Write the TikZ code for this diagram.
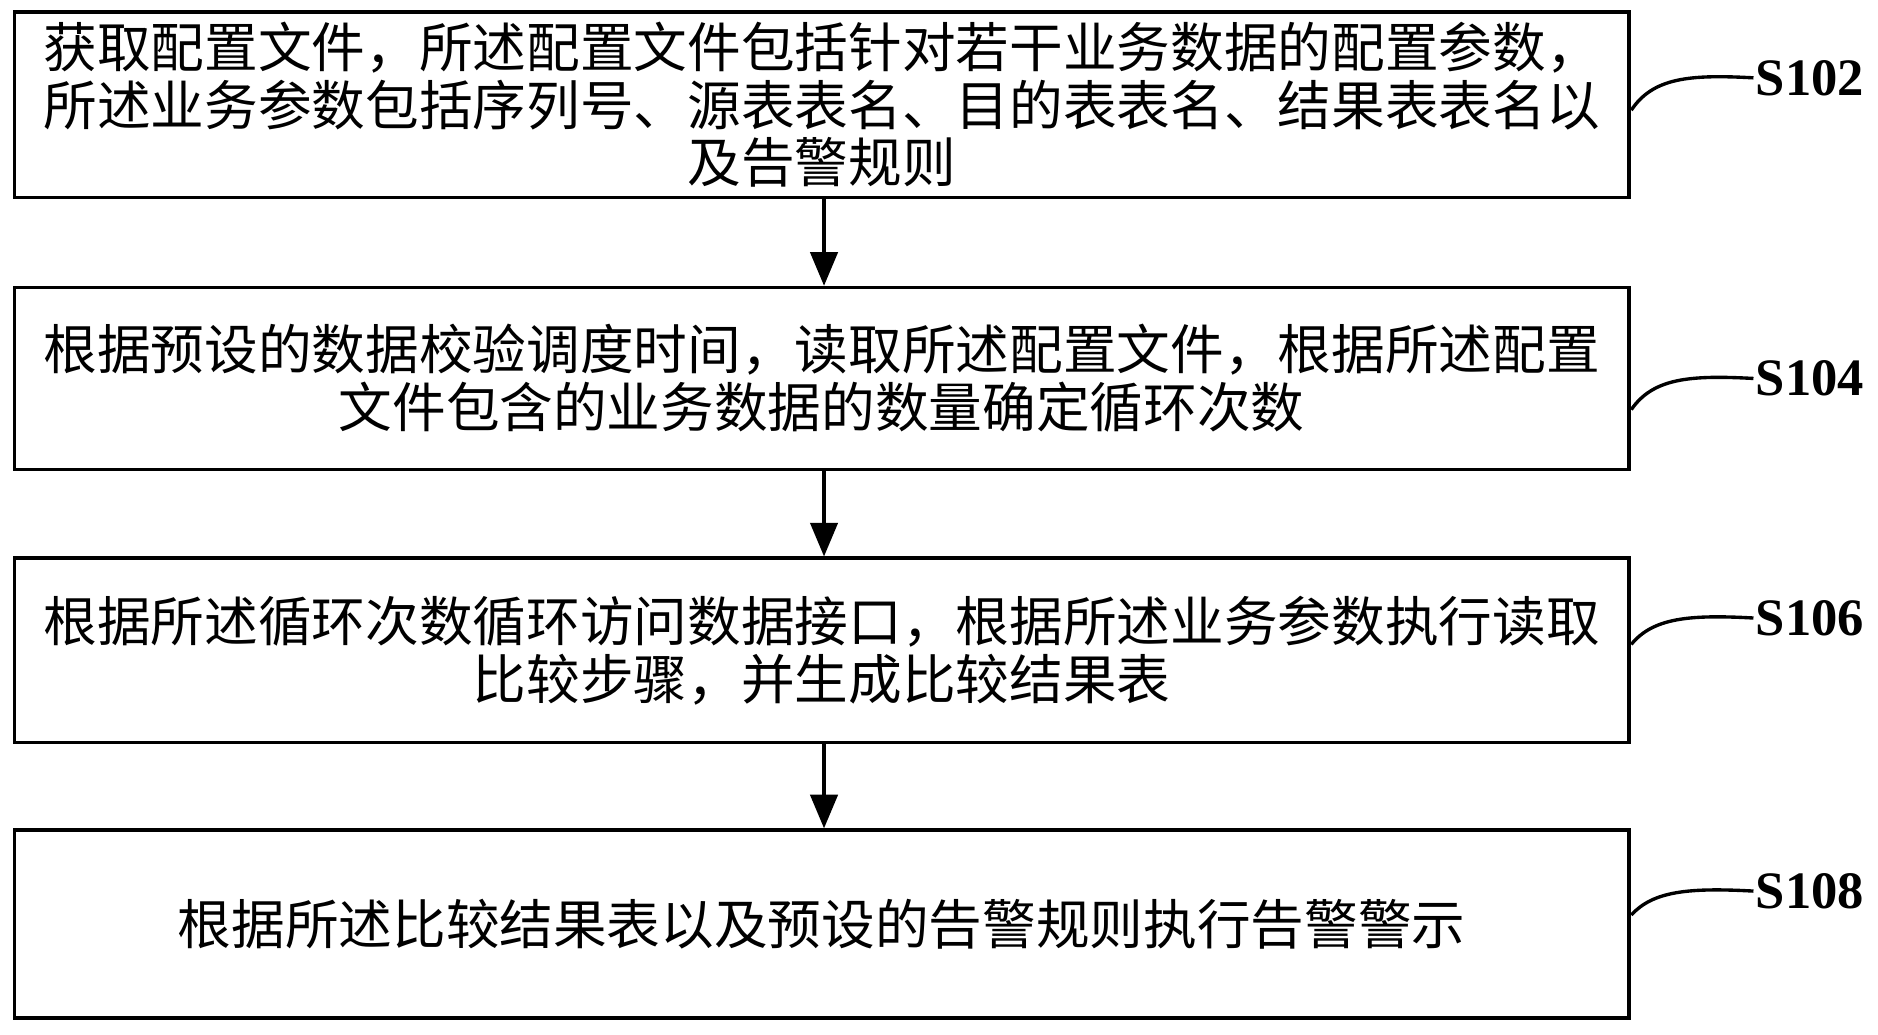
\documentclass[tikz,border=0pt]{standalone}
\usepackage{fontspec}
\setmainfont{Liberation Serif}
\newfontfamily\cjk{Noto Sans CJK SC}
\usetikzlibrary{arrows.meta}
\begin{document}
\begin{tikzpicture}[x=0.02cm,y=-0.02cm,
  box/.style={draw,line width=1.6pt,minimum width=1348*0.02cm,inner sep=0pt,align=center,font=\cjk\fontsize{25.5}{27.5}\selectfont},
  arr/.style={line width=1.6pt,-{Triangle[length=16pt,width=13pt]}},
  lead/.style={line width=1.6pt},
  lab/.style={anchor=west,font=\fontsize{25}{27}\selectfont\bfseries,inner sep=1pt}]
\useasboundingbox (0,0) rectangle (1568,864);
\node[box,minimum height=155*0.02cm] (b1) at (686,87.5) {获取配置文件，所述配置文件包括针对若干业务数据的配置参数，\\所述业务参数包括序列号、源表表名、目的表表名、结果表表名以\\及告警规则};
\node[box,minimum height=152*0.02cm] (b2) at (686,316) {根据预设的数据校验调度时间，读取所述配置文件，根据所述配置\\文件包含的业务数据的数量确定循环次数};
\node[box,minimum height=154*0.02cm] (b3) at (686,543) {根据所述循环次数循环访问数据接口，根据所述业务参数执行读取\\比较步骤，并生成比较结果表};
\node[box,minimum height=157*0.02cm] (b4) at (686,771.5) {根据所述比较结果表以及预设的告警规则执行告警警示};
\draw[arr] (b1.south -| 688,0) -- (b2.north -| 688,0);
\draw[arr] (b2.south -| 688,0) -- (b3.north -| 688,0);
\draw[arr] (b3.south -| 688,0) -- (b4.north -| 688,0);
\node[lab] (s1) at (1464,65) {S102};
\node[lab] (s2) at (1464,316) {S104};
\node[lab] (s3) at (1464,516) {S106};
\node[lab] (s4) at (1464,744) {S108};
\draw[lead] (1362,92) .. controls (1380,65) and (1410,62) .. (s1.west);
\draw[lead] (1362,342) .. controls (1380,316) and (1410,313) .. (s2.west);
\draw[lead] (1362,538) .. controls (1380,516) and (1410,513) .. (s3.west);
\draw[lead] (1362,764) .. controls (1380,744) and (1410,741) .. (s4.west);
\end{tikzpicture}
\end{document}
